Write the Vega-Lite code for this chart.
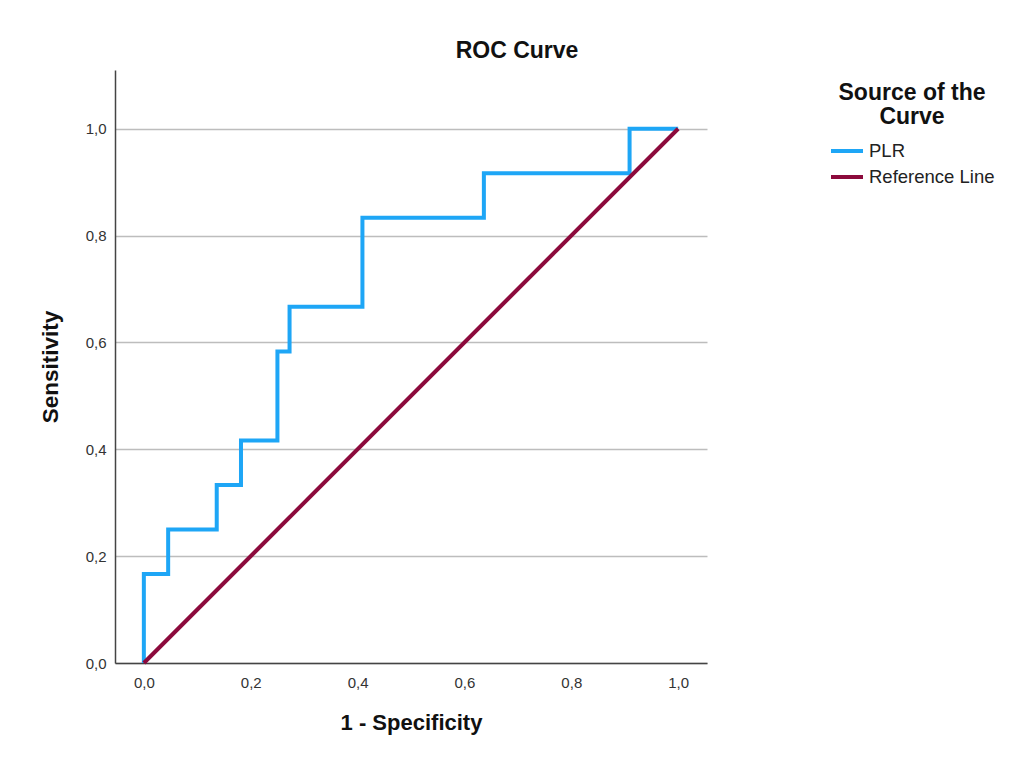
{
  "$schema": "https://vega.github.io/schema/vega-lite/v6.json",
  "autosize": "none",
  "width": 592,
  "height": 593,
  "padding": {"left": 115, "top": 70, "right": 307, "bottom": 104},
  "background": "white",
  "config": {
    "font": "Liberation Sans",
    "view": {"stroke": null}
  },
  "title": {
    "text": "ROC Curve",
    "fontSize": 23,
    "fontWeight": "bold",
    "color": "#111",
    "anchor": "middle",
    "dx": 106,
    "offset": 7
  },
  "data": {
    "values": [
      {"series": "PLR", "ord": 0, "fpr": 0, "tpr": 0},
      {"series": "PLR", "ord": 1, "fpr": 0, "tpr": 0.1667},
      {"series": "PLR", "ord": 2, "fpr": 0.0455, "tpr": 0.1667},
      {"series": "PLR", "ord": 3, "fpr": 0.0455, "tpr": 0.25},
      {"series": "PLR", "ord": 4, "fpr": 0.1364, "tpr": 0.25},
      {"series": "PLR", "ord": 5, "fpr": 0.1364, "tpr": 0.3333},
      {"series": "PLR", "ord": 6, "fpr": 0.1818, "tpr": 0.3333},
      {"series": "PLR", "ord": 7, "fpr": 0.1818, "tpr": 0.4167},
      {"series": "PLR", "ord": 8, "fpr": 0.25, "tpr": 0.4167},
      {"series": "PLR", "ord": 9, "fpr": 0.25, "tpr": 0.5833},
      {"series": "PLR", "ord": 10, "fpr": 0.2727, "tpr": 0.5833},
      {"series": "PLR", "ord": 11, "fpr": 0.2727, "tpr": 0.6667},
      {"series": "PLR", "ord": 12, "fpr": 0.4091, "tpr": 0.6667},
      {"series": "PLR", "ord": 13, "fpr": 0.4091, "tpr": 0.8333},
      {"series": "PLR", "ord": 14, "fpr": 0.6364, "tpr": 0.8333},
      {"series": "PLR", "ord": 15, "fpr": 0.6364, "tpr": 0.9167},
      {"series": "PLR", "ord": 16, "fpr": 0.9091, "tpr": 0.9167},
      {"series": "PLR", "ord": 17, "fpr": 0.9091, "tpr": 1},
      {"series": "PLR", "ord": 18, "fpr": 1, "tpr": 1},
      {"series": "Reference Line", "ord": 0, "fpr": 0, "tpr": 0},
      {"series": "Reference Line", "ord": 1, "fpr": 1, "tpr": 1}
    ]
  },
  "mark": {"type": "line", "strokeWidth": 4, "strokeJoin": "miter", "clip": false},
  "encoding": {
    "x": {
      "field": "fpr",
      "type": "quantitative",
      "scale": {"domain": [-0.054, 1.054], "nice": false, "zero": false},
      "axis": {
        "title": "1 - Specificity",
        "values": [0, 0.2, 0.4, 0.6, 0.8, 1],
        "labelExpr": "replace(format(datum.value, '.1f'), '.', ',')",
        "grid": false,
        "ticks": false,
        "tickSize": 0,
        "labelPadding": 12,
        "labelFontSize": 15,
        "labelColor": "#333",
        "domainColor": "#444",
        "domainWidth": 1.5,
        "titleFontSize": 22,
        "titleFontWeight": "bold",
        "titleColor": "#111",
        "titlePadding": 22
      }
    },
    "y": {
      "field": "tpr",
      "type": "quantitative",
      "scale": {"domain": [0, 1.11], "nice": false, "zero": false},
      "axis": {
        "title": "Sensitivity",
        "values": [0, 0.2, 0.4, 0.6, 0.8, 1],
        "labelExpr": "replace(format(datum.value, '.1f'), '.', ',')",
        "grid": true,
        "gridColor": "#bdbdbd",
        "gridWidth": 1.5,
        "ticks": false,
        "tickSize": 0,
        "labelPadding": 9,
        "labelFontSize": 15,
        "labelColor": "#333",
        "domainColor": "#444",
        "domainWidth": 1.5,
        "titleFontSize": 22.5,
        "titleFontWeight": "bold",
        "titleColor": "#111",
        "titlePadding": 23
      }
    },
    "order": {"field": "ord", "type": "quantitative"},
    "color": {
      "field": "series",
      "type": "nominal",
      "scale": {"domain": ["PLR", "Reference Line"], "range": ["#1ea6f6", "#8c0a3c"]},
      "legend": {
        "title": ["Source of the", "Curve"],
        "orient": "none",
        "legendX": 714,
        "legendY": 12,
        "titleFontSize": 23,
        "titleFontWeight": "bold",
        "titleColor": "#111",
        "titleAnchor": "middle",
        "titleAlign": "center",
        "titleLineHeight": 24,
        "titlePadding": 12,
        "symbolType": "M-1,0H3",
        "symbolSize": 256,
        "symbolStrokeWidth": 4,
        "labelFontSize": 18.5,
        "labelColor": "#222",
        "labelOffset": 20,
        "rowPadding": 6
      }
    }
  }
}
